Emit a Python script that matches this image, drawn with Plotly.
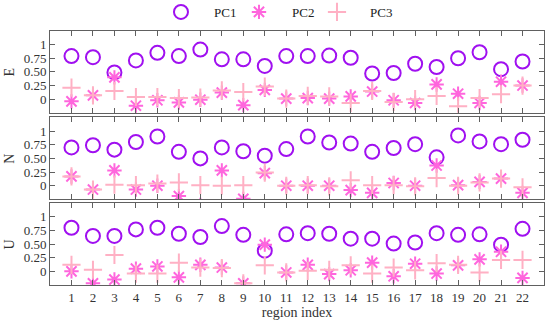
import plotly.graph_objects as go

regions = list(range(1, 23))
x_ticks = [str(i) for i in regions]
y_tickvals = [0, 0.25, 0.5, 0.75, 1]
y_ticktext = ["0", "0.25", "0.50", "0.75", "1"]
panel_names = ["E", "N", "U"]
series_names = ["PC1", "PC2", "PC3"]

E_PC1 = [0.79, 0.77, 0.49, 0.71, 0.85, 0.79, 0.91, 0.73, 0.73, 0.61, 0.79,
         0.79, 0.80, 0.76, 0.47, 0.48, 0.65, 0.59, 0.75, 0.86, 0.55, 0.69]
E_PC2 = [-0.04, 0.07, 0.40, -0.12, -0.02, -0.06, -0.01, 0.12, -0.11, 0.17, 0.01,
         0.02, 0.01, 0.05, 0.14, -0.02, -0.07, 0.27, 0.10, -0.07, 0.32, 0.25]
E_PC3 = [0.21, 0.07, 0.15, 0.04, 0.04, 0.02, 0.03, 0.16, 0.13, 0.23, 0.01,
         0.06, 0.05, -0.07, 0.15, -0.05, 0.00, 0.06, -0.13, 0.02, 0.09, 0.25]

N_PC1 = [0.70, 0.74, 0.66, 0.80, 0.90, 0.62, 0.50, 0.70, 0.63, 0.55, 0.67,
         0.90, 0.79, 0.77, 0.62, 0.69, 0.76, 0.52, 0.92, 0.81, 0.76, 0.84]
N_PC2 = [0.17, -0.07, 0.28, -0.07, 0.00, -0.19, -0.35, 0.28, -0.24, 0.23, 0.00,
         0.00, 0.00, -0.08, -0.13, 0.05, 0.00, 0.37, 0.01, 0.07, 0.13, -0.13]
N_PC3 = [0.17, -0.07, 0.02, 0.01, 0.04, 0.06, 0.01, 0.00, 0.01, 0.24, 0.00,
         0.01, -0.01, 0.10, 0.01, 0.01, -0.01, 0.14, 0.00, 0.06, 0.13, -0.03]

U_PC1 = [0.80, 0.65, 0.65, 0.77, 0.80, 0.69, 0.63, 0.83, 0.67, 0.38, 0.68,
         0.70, 0.69, 0.60, 0.60, 0.51, 0.53, 0.70, 0.67, 0.68, 0.49, 0.78]
U_PC2 = [0.00, -0.22, -0.15, 0.05, 0.09, -0.11, 0.12, 0.07, -0.22, 0.49, -0.02,
         0.12, -0.05, 0.02, 0.16, -0.09, 0.14, -0.04, 0.11, 0.22, 0.36, -0.12]
U_PC3 = [0.12, 0.03, 0.30, -0.04, -0.04, 0.16, 0.07, 0.06, -0.22, 0.11, -0.02,
         0.01, 0.03, 0.11, -0.04, 0.07, 0.02, 0.15, 0.12, -0.02, 0.21, 0.21]

panels = [[E_PC1, E_PC2, E_PC3], [N_PC1, N_PC2, N_PC3], [U_PC1, U_PC2, U_PC3]]

colors = ["#a010f0", "#ff66dd", "#ffb0c4"]
symbols = ["circle-open", "asterisk-open", "cross-thin-open"]
sizes = [14, 12, 13]

font = "Liberation Serif"
frame = "#606060"
txt = "#333333"

domains = [[0.678, 1.0], [0.337, 0.660], [0.0, 0.322]]

fig = go.Figure()
for p, series in enumerate(panels):
    ax = "" if p == 0 else str(p + 1)
    for s, vals in enumerate(series):
        fig.add_trace(go.Scatter(
            x=regions, y=vals, mode="markers",
            name="\u2003" + series_names[s],
            showlegend=(p == 0), legendgroup=series_names[s],
            xaxis="x" + ax, yaxis="y" + ax,
            marker=dict(symbol=symbols[s], size=sizes[s], color=colors[s],
                        line=dict(width=2, color=colors[s])),
        ))
    xa = dict(range=[0, 23], tickvals=regions, ticktext=x_ticks,
              showticklabels=(p == 2), ticks="inside", ticklen=5,
              tickcolor=frame, tickwidth=1, mirror="ticks", showline=True,
              linecolor=frame, linewidth=1, showgrid=False, zeroline=False,
              tickfont=dict(family=font, size=13, color=txt),
              automargin=False, anchor="y" + ax)
    if p == 2:
        xa["title"] = dict(text="region index", standoff=2,
                           font=dict(family=font, size=14, color=txt))
    if p > 0:
        xa["matches"] = "x"
    ya = dict(range=[-0.25, 1.25], tickvals=y_tickvals, ticktext=y_ticktext,
              domain=domains[p], ticks="inside", ticklen=5, tickcolor=frame,
              tickwidth=1, mirror="ticks", showline=True, linecolor=frame,
              linewidth=1, showgrid=False, zeroline=False,
              tickfont=dict(family=font, size=13, color=txt),
              automargin=False, anchor="x" + ax)
    fig.layout["xaxis" + ax] = xa
    fig.layout["yaxis" + ax] = ya
    fig.add_annotation(text=panel_names[p], xref="paper", yref="paper",
                       x=-0.082, y=(domains[p][0] + domains[p][1]) / 2,
                       xanchor="center", yanchor="middle", textangle=-90,
                       showarrow=False,
                       font=dict(family=font, size=14, color=txt))

fig.update_layout(
    width=550, height=325,
    margin=dict(l=50, r=6, t=31, b=40, autoexpand=False),
    paper_bgcolor="white", plot_bgcolor="white",
    legend=dict(orientation="h", x=0.4615, xanchor="center", y=1.075,
                yanchor="middle", font=dict(family=font, size=13, color="#222"),
                itemwidth=30, entrywidth=33, bgcolor="rgba(0,0,0,0)"),
)

fig.write_html("out.html", config={"displayModeBar": False},
               post_script="document.body.style.margin='0';")
